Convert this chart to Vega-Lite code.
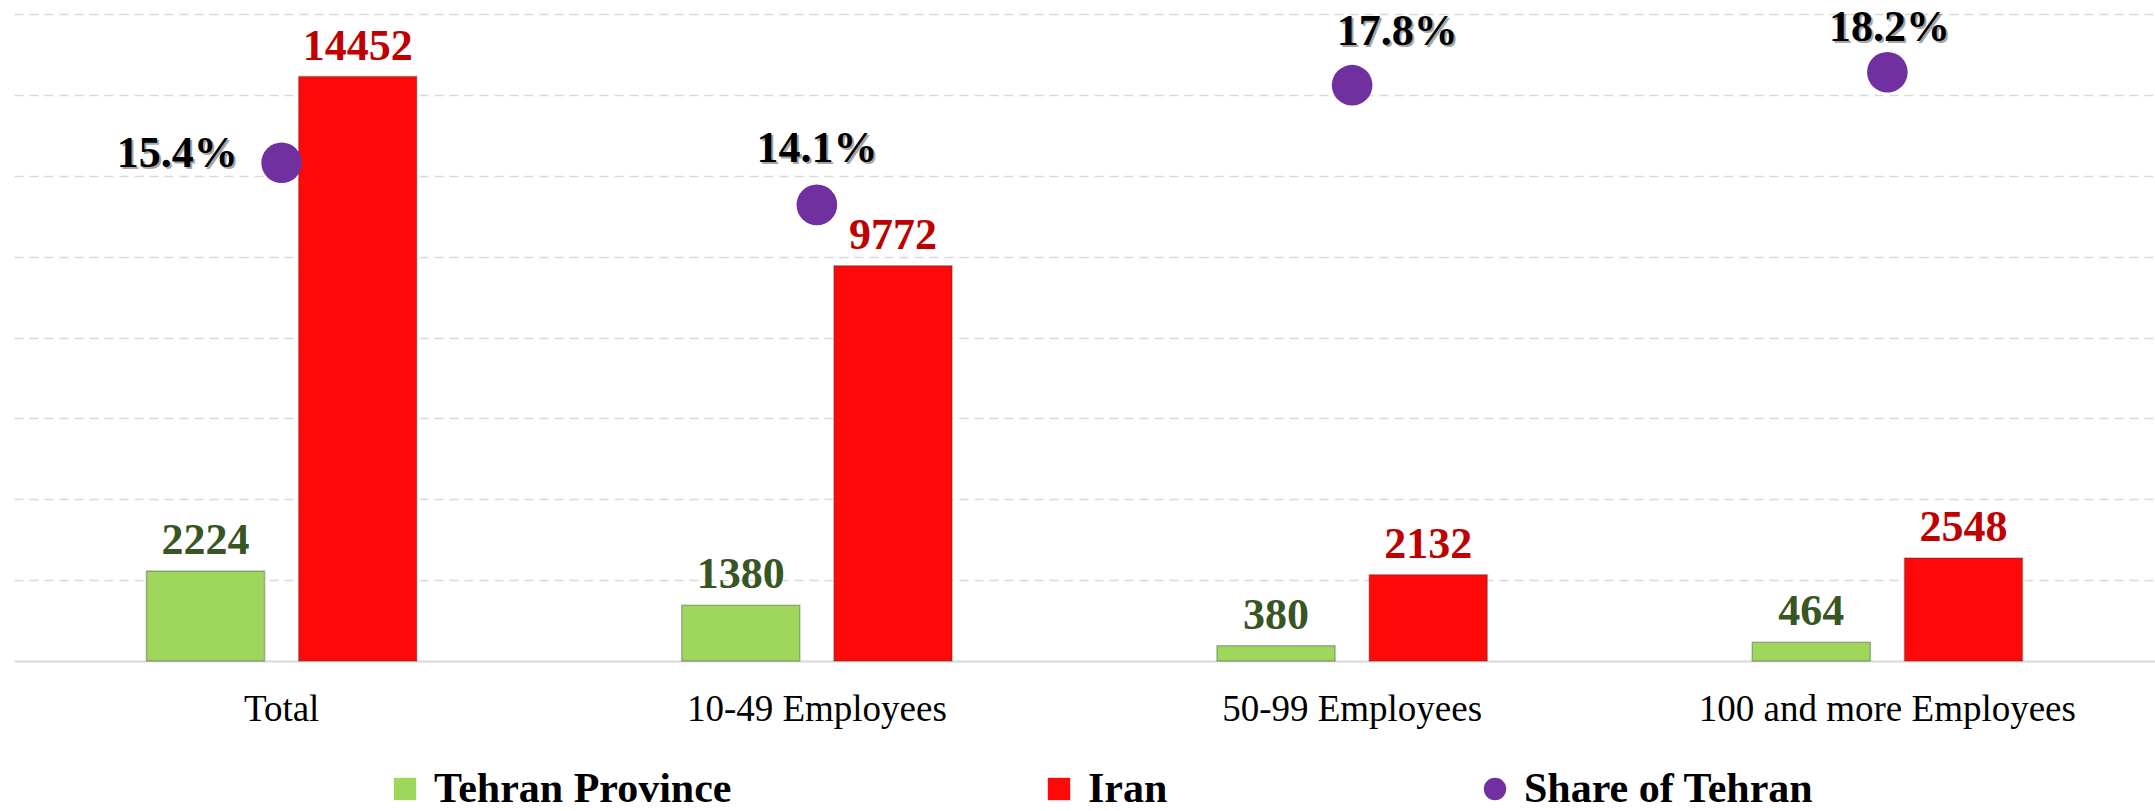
{
  "$schema": "https://vega.github.io/schema/vega-lite/v6.json",
  "width": 2141,
  "height": 647,
  "autosize": {"type": "none"},
  "padding": {"left": 14, "top": 14, "right": 0, "bottom": 150},
  "background": "#ffffff",
  "config": {
    "view": {"stroke": null},
    "font": "Liberation Serif",
    "text": {"font": "Liberation Serif", "fontWeight": "bold", "fontSize": 44}
  },
  "datasets": {
    "bars": [
      {"category": "Total", "series": "Tehran Province", "value": 2224},
      {"category": "Total", "series": "Iran", "value": 14452},
      {"category": "10-49 Employees", "series": "Tehran Province", "value": 1380},
      {"category": "10-49 Employees", "series": "Iran", "value": 9772},
      {"category": "50-99 Employees", "series": "Tehran Province", "value": 380},
      {"category": "50-99 Employees", "series": "Iran", "value": 2132},
      {"category": "100 and more Employees", "series": "Tehran Province", "value": 464},
      {"category": "100 and more Employees", "series": "Iran", "value": 2548}
    ],
    "share": [
      {"category": "Total", "series": "Share of Tehran", "share": 0.154},
      {"category": "10-49 Employees", "series": "Share of Tehran", "share": 0.141},
      {"category": "50-99 Employees", "series": "Share of Tehran", "share": 0.178},
      {"category": "100 and more Employees", "series": "Share of Tehran", "share": 0.182}
    ]
  },
  "encoding": {
    "x": {
      "field": "category",
      "type": "nominal",
      "sort": ["Total", "10-49 Employees", "50-99 Employees", "100 and more Employees"],
      "scale": {"paddingInner": 0.495, "paddingOuter": 0.2475},
      "axis": {
        "title": null,
        "labelAngle": 0,
        "labelFont": "Liberation Serif",
        "labelFontSize": 37,
        "labelFontWeight": "normal",
        "labelColor": "#000000",
        "labelPadding": 30,
        "labelLimit": 0,
        "ticks": false,
        "domainColor": "#D9D9D9",
        "domainWidth": 2
      }
    }
  },
  "layer": [
    {
      "data": {"name": "bars"},
      "encoding": {
        "xOffset": {
          "field": "series",
          "type": "nominal",
          "sort": ["Tehran Province", "Iran"],
          "scale": {"domain": ["Tehran Province", "Iran"], "paddingInner": 0.224, "paddingOuter": 0}
        },
        "y": {
          "field": "value",
          "type": "quantitative",
          "scale": {"domain": [0, 16000], "nice": false},
          "axis": {
            "title": null,
            "labels": false,
            "ticks": false,
            "domain": false,
            "values": [2000, 4000, 6000, 8000, 10000, 12000, 14000, 16000],
            "gridColor": "#D9D9D9",
            "gridDash": [9, 6],
            "gridWidth": 1.5
          }
        }
      },
      "layer": [
        {
          "mark": {"type": "bar", "stroke": "#3d3d3d", "strokeOpacity": 0.35, "strokeWidth": 1.5},
          "encoding": {
            "color": {
              "field": "series",
              "type": "nominal",
              "scale": {
                "domain": ["Tehran Province", "Iran", "Share of Tehran"],
                "range": ["#9ED75C", "#FF0808", "#7030A0"]
              },
              "legend": {
                "title": null,
                "orient": "none",
                "direction": "horizontal",
                "legendX": 370,
                "legendY": 754,
                "labelFont": "Liberation Serif",
                "labelFontWeight": "bold",
                "labelFontSize": 42,
                "labelColor": "#000000",
                "labelOffset": 8,
                "symbolSize": 500,
                "symbolStrokeWidth": 0,
                "columnPadding": 306,
                "padding": 0,
                "labelLimit": 0
              }
            }
          }
        },
        {
          "transform": [{"filter": "datum.series === 'Tehran Province'"}],
          "mark": {"type": "text", "baseline": "alphabetic", "dy": -17, "color": "#375623"},
          "encoding": {
            "text": {"field": "value", "type": "quantitative", "format": "d"}
          }
        },
        {
          "transform": [{"filter": "datum.series === 'Iran'"}],
          "mark": {"type": "text", "baseline": "alphabetic", "dy": -17, "color": "#C00000"},
          "encoding": {
            "text": {"field": "value", "type": "quantitative", "format": "d"}
          }
        }
      ]
    },
    {
      "data": {"name": "share"},
      "encoding": {
        "y": {
          "field": "share",
          "type": "quantitative",
          "scale": {"domain": [0, 0.2], "nice": false},
          "axis": null
        },
        "text": {"field": "share", "type": "quantitative", "format": ".1%"}
      },
      "layer": [
        {
          "mark": {"type": "point", "filled": true, "opacity": 1, "size": 1650},
          "encoding": {
            "text": null,
            "color": {"field": "series", "type": "nominal"},
            "shape": {
              "field": "series",
              "type": "nominal",
              "scale": {
                "domain": ["Tehran Province", "Iran", "Share of Tehran"],
                "range": ["square", "square", "circle"]
              }
            }
          }
        },
        {
          "transform": [{"filter": "datum.category === 'Total'"}],
          "mark": {"type": "text", "align": "right", "baseline": "middle", "dx": -42, "dy": -7, "color": "#000000", "opacity": 0.35}
        },
        {
          "transform": [{"filter": "datum.category === 'Total'"}],
          "mark": {"type": "text", "align": "right", "baseline": "middle", "dx": -44, "dy": -9, "color": "#000000"}
        },
        {
          "transform": [{"filter": "datum.category === '10-49 Employees'"}],
          "mark": {"type": "text", "align": "center", "baseline": "alphabetic", "dx": 2, "dy": -41, "color": "#000000", "opacity": 0.35}
        },
        {
          "transform": [{"filter": "datum.category === '10-49 Employees'"}],
          "mark": {"type": "text", "align": "center", "baseline": "alphabetic", "dx": 0, "dy": -43, "color": "#000000"}
        },
        {
          "transform": [{"filter": "datum.category === '50-99 Employees'"}],
          "mark": {"type": "text", "align": "center", "baseline": "alphabetic", "dx": 47, "dy": -38, "color": "#000000", "opacity": 0.35}
        },
        {
          "transform": [{"filter": "datum.category === '50-99 Employees'"}],
          "mark": {"type": "text", "align": "center", "baseline": "alphabetic", "dx": 45, "dy": -40, "color": "#000000"}
        },
        {
          "transform": [{"filter": "datum.category === '100 and more Employees'"}],
          "mark": {"type": "text", "align": "center", "baseline": "alphabetic", "dx": 4, "dy": -29, "color": "#000000", "opacity": 0.35}
        },
        {
          "transform": [{"filter": "datum.category === '100 and more Employees'"}],
          "mark": {"type": "text", "align": "center", "baseline": "alphabetic", "dx": 2, "dy": -31, "color": "#000000"}
        }
      ]
    }
  ],
  "resolve": {"scale": {"y": "independent"}}
}
